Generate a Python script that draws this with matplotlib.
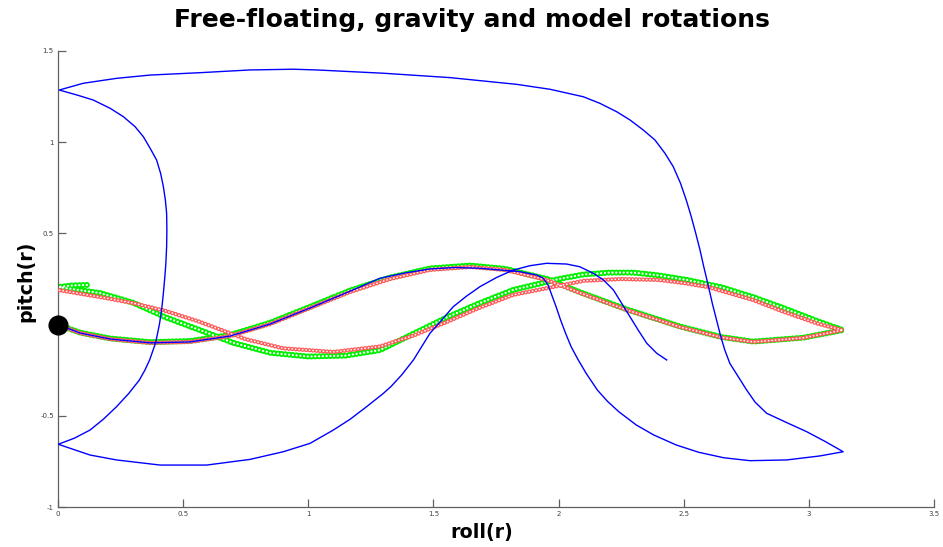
import matplotlib
matplotlib.use("Agg")
from matplotlib import pyplot as plt

# free-floating trajectory (blue line)
free_roll = [0.000, 0.088, 0.208, 0.368, 0.527, 0.687, 0.847, 1.007, 1.167, 1.286,
             1.386, 1.486, 1.586, 1.686, 1.846, 1.912, 1.939, 1.958, 1.975, 1.990,
             2.008, 2.028, 2.050, 2.077, 2.110, 2.155, 2.195, 2.240, 2.310, 2.380,
             2.470, 2.560, 2.660, 2.765, 2.911, 3.044, 3.137, 3.064, 2.991, 2.911,
             2.831, 2.785, 2.751, 2.718, 2.684, 2.664, 2.648, 2.628, 2.614, 2.596,
             2.580, 2.565, 2.548, 2.530, 2.510, 2.487, 2.458, 2.425, 2.385, 2.338,
             2.285, 2.232, 2.165, 2.099, 1.966, 1.833, 1.566, 1.300, 1.034, 0.940,
             0.767, 0.567, 0.368, 0.234, 0.101, 0.005, 0.075, 0.141, 0.208, 0.261,
             0.308, 0.341, 0.368, 0.394, 0.410, 0.421, 0.429, 0.434, 0.435, 0.434,
             0.431, 0.427, 0.421, 0.414, 0.405, 0.390, 0.366, 0.347, 0.325, 0.283,
             0.234, 0.181, 0.128, 0.065, 0.001, 0.048, 0.128, 0.234, 0.408, 0.594,
             0.767, 0.900, 1.007, 1.100, 1.167, 1.233, 1.300, 1.330, 1.373, 1.420,
             1.453, 1.486, 1.533, 1.579, 1.633, 1.686, 1.753, 1.819, 1.886, 1.952,
             2.032, 2.085, 2.139, 2.179, 2.219, 2.252, 2.285, 2.318, 2.352, 2.392,
             2.432]
free_pitch = [0.000, -0.046, -0.079, -0.100, -0.095, -0.063, 0.003, 0.091, 0.183, 0.254,
              0.283, 0.305, 0.313, 0.309, 0.290, 0.272, 0.254, 0.217, 0.153, 0.098,
              0.025, -0.048, -0.121, -0.190, -0.267, -0.359, -0.420, -0.477, -0.550, -0.605,
              -0.660, -0.700, -0.730, -0.746, -0.742, -0.720, -0.697, -0.640, -0.587, -0.537,
              -0.486, -0.425, -0.358, -0.286, -0.212, -0.139, -0.066, 0.043, 0.117, 0.226,
              0.317, 0.409, 0.500, 0.592, 0.683, 0.775, 0.866, 0.939, 1.012, 1.067,
              1.122, 1.167, 1.213, 1.249, 1.290, 1.317, 1.354, 1.378, 1.396, 1.400,
              1.396, 1.381, 1.368, 1.350, 1.323, 1.286, 1.259, 1.231, 1.186, 1.140,
              1.085, 1.030, 0.967, 0.902, 0.829, 0.756, 0.683, 0.610, 0.519, 0.427,
              0.336, 0.263, 0.172, 0.080, 0.000, -0.100, -0.194, -0.250, -0.304, -0.377,
              -0.450, -0.519, -0.578, -0.623, -0.656, -0.678, -0.715, -0.742, -0.770, -0.770,
              -0.739, -0.697, -0.651, -0.578, -0.519, -0.450, -0.377, -0.340, -0.276, -0.194,
              -0.121, -0.048, 0.025, 0.098, 0.157, 0.208, 0.259, 0.299, 0.323, 0.336,
              0.332, 0.317, 0.281, 0.245, 0.190, 0.117, 0.043, -0.030, -0.102, -0.157,
              -0.194]

# gravity trajectory (red circles)
gravity_roll = [0.000, 0.088, 0.208, 0.368, 0.527, 0.687, 0.847, 1.007, 1.167, 1.326,
                1.486, 1.646, 1.786, 1.954, 2.085, 2.273, 2.485, 2.650, 2.777, 2.976,
                3.136, 3.040, 2.900, 2.777, 2.600, 2.500, 2.400, 2.250, 2.100, 2.017,
                1.818, 1.680, 1.554, 1.420, 1.286, 1.100, 0.900, 0.750, 0.567, 0.430,
                0.300, 0.168, 0.000]
gravity_pitch = [0.000, -0.046, -0.079, -0.100, -0.095, -0.063, 0.003, 0.091, 0.179, 0.250,
                 0.300, 0.316, 0.300, 0.244, 0.174, 0.080, -0.013, -0.070, -0.095, -0.073,
                 -0.030, 0.003, 0.070, 0.135, 0.205, 0.228, 0.245, 0.250, 0.240, 0.217,
                 0.163, 0.090, 0.015, -0.060, -0.120, -0.150, -0.130, -0.080, 0.015, 0.075,
                 0.118, 0.151, 0.190]

# model trajectory (green circles)
model_roll = [0.000, 0.088, 0.208, 0.368, 0.527, 0.687, 0.847, 1.007, 1.167, 1.326,
              1.486, 1.646, 1.786, 1.954, 2.085, 2.273, 2.485, 2.650, 2.777, 2.976,
              3.136, 3.044, 2.900, 2.777, 2.650, 2.513, 2.400, 2.300, 2.200, 2.100,
              2.000, 1.818, 1.680, 1.554, 1.420, 1.286, 1.150, 1.000, 0.850, 0.700,
              0.567, 0.430, 0.300, 0.168, 0.000, 0.060, 0.128]
model_pitch = [0.000, -0.044, -0.076, -0.096, -0.090, -0.057, 0.010, 0.098, 0.187, 0.258,
               0.308, 0.324, 0.306, 0.250, 0.178, 0.083, -0.010, -0.068, -0.093, -0.072,
               -0.030, 0.014, 0.090, 0.151, 0.205, 0.245, 0.270, 0.285, 0.285, 0.275,
               0.250, 0.190, 0.115, 0.040, -0.050, -0.140, -0.170, -0.175, -0.155, -0.100,
               -0.030, 0.040, 0.120, 0.173, 0.206, 0.215, 0.218]

x_ticks = [0, 0.5, 1, 1.5, 2, 2.5, 3, 3.5]
x_tick_labels = ["0", "0.5", "1", "1.5", "2", "2.5", "3", "3.5"]
y_ticks = [-1, -0.5, 0, 0.5, 1, 1.5]
y_tick_labels = ["-1", "-0.5", "0", "0.5", "1", "1.5"]


def plot_circle_trail(ax, xs, ys, color, outer, inner, gap, z):
    # open-circle look: round dots in colour, smaller white dots on top
    ax.plot(xs, ys, color=color, lw=outer, dashes=(0.01, gap),
            dash_capstyle="round", zorder=z)
    ax.plot(xs, ys, color="white", lw=inner, dashes=(0.01, gap),
            dash_capstyle="round", zorder=z + 0.1)


def main():
    plt.rcParams["lines.scale_dashes"] = False
    fig = plt.figure(figsize=(9.43, 5.47), dpi=100)
    ax = fig.add_axes([0.0615, 0.0731, 0.929, 0.8337])

    plot_circle_trail(ax, model_roll, model_pitch, "#00f000", 4.4, 1.7, 2.7, 2)
    plot_circle_trail(ax, gravity_roll, gravity_pitch, "#ff5a5a", 3.2, 1.3, 2.5, 3)
    ax.plot(free_roll, free_pitch, color="#0000ff", lw=1.0, zorder=4)
    ax.plot([0], [0], "o", color="black", ms=13.5, clip_on=False, zorder=5)

    ax.set_xlim(0, 3.5)
    ax.set_ylim(-1, 1.5)
    ax.set_xticks(x_ticks)
    ax.set_xticklabels(x_tick_labels)
    ax.set_yticks(y_ticks)
    ax.set_yticklabels(y_tick_labels)
    for side in ["top", "right"]:
        ax.spines[side].set_visible(False)
    for side in ["left", "bottom"]:
        ax.spines[side].set_color("#606060")
        ax.spines[side].set_linewidth(0.9)
    ax.tick_params(direction="in", length=6, width=0.9, color="#606060",
                   labelsize=5, labelcolor="#404040", pad=3)

    fig.suptitle("Free-floating, gravity and model rotations", x=0.5, y=0.963,
                 va="center", fontsize=18, fontweight="bold")
    fig.text(0.511, 0.026, "roll(r)", ha="center", va="center",
             fontsize=13.8, fontweight="bold")
    fig.text(0.027, 0.486, "pitch(r)", ha="center", va="center", rotation=90,
             fontsize=13.8, fontweight="bold")

    fig.savefig("out.png", dpi=100)


if __name__ == "__main__":
    main()
